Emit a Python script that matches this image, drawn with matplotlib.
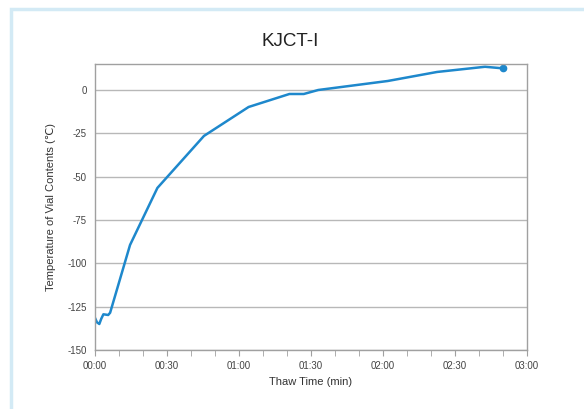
import matplotlib
matplotlib.use("Agg")
import matplotlib.pyplot as plt
from matplotlib.patches import Rectangle
from matplotlib.ticker import MultipleLocator, FuncFormatter

# thaw time in minutes, temperature in degC
minutes = [0, 0.8, 1.8, 2.6, 3.5, 4.5, 5.5, 6.3, 14.6, 26, 45.4, 64, 81, 87, 93, 122, 142.5, 162.5, 169.9]
temps = [-131.5, -134, -135, -132, -129.4, -129.6, -129.8, -128.5, -89.4, -56.5, -26.5, -9.8, -2.3, -2.3, 0, 5.2, 10.4, 13.4, 12.5]

title = "KJCT-I"
xlabel = "Thaw Time (min)"
ylabel = "Temperature of Vial Contents (℃)"

line_color = "#1e88cc"
grid_color = "#b8b8b8"

plt.rcParams["font.family"] = ["Liberation Sans", "DejaVu Sans"]
plt.rcParams["axes.unicode_minus"] = False

fig = plt.figure(figsize=(5.84, 4.09), dpi=100)
fig.patches.append(Rectangle((11 / 584, -0.1), 1.2, 1 - 9 / 409 + 0.1, transform=fig.transFigure,
                             fill=False, edgecolor="#d3eaf5", linewidth=2.5))

ax = fig.add_axes([95 / 584, 1 - 350 / 409, 432 / 584, 286 / 409])
ax.plot(minutes, temps, color=line_color, lw=1.8, solid_joinstyle="round")
ax.plot(minutes[-1], temps[-1], "o", color=line_color, ms=4.5)

ax.set_xlim(0, 180)
ax.set_ylim(-150, 15)
ax.xaxis.set_major_locator(MultipleLocator(30))
ax.xaxis.set_minor_locator(MultipleLocator(10))
ax.xaxis.set_major_formatter(FuncFormatter(lambda v, p: f"{int(v) // 60:02d}:{int(v) % 60:02d}"))
ax.yaxis.set_major_locator(MultipleLocator(25))

ax.grid(axis="y", color=grid_color, lw=1)
ax.set_axisbelow(True)
for s in ax.spines.values():
    s.set_color("#a0a0a0")
    s.set_linewidth(1)
ax.tick_params(axis="x", which="both", length=4, color="#a0a0a0", labelsize=7,
               labelcolor="#444444", pad=4)
ax.tick_params(axis="y", length=0, labelsize=7, labelcolor="#444444", pad=6)

ax.set_xlabel(xlabel, fontsize=8, color="#333333", labelpad=4)
ax.set_ylabel(ylabel, fontsize=8, color="#333333", labelpad=8)

fig.text(0.5 - 0.003, 1 - 42 / 409, title, ha="center", va="center", fontsize=13.5,
         color="#222222")

fig.savefig("out.png", dpi=100)
